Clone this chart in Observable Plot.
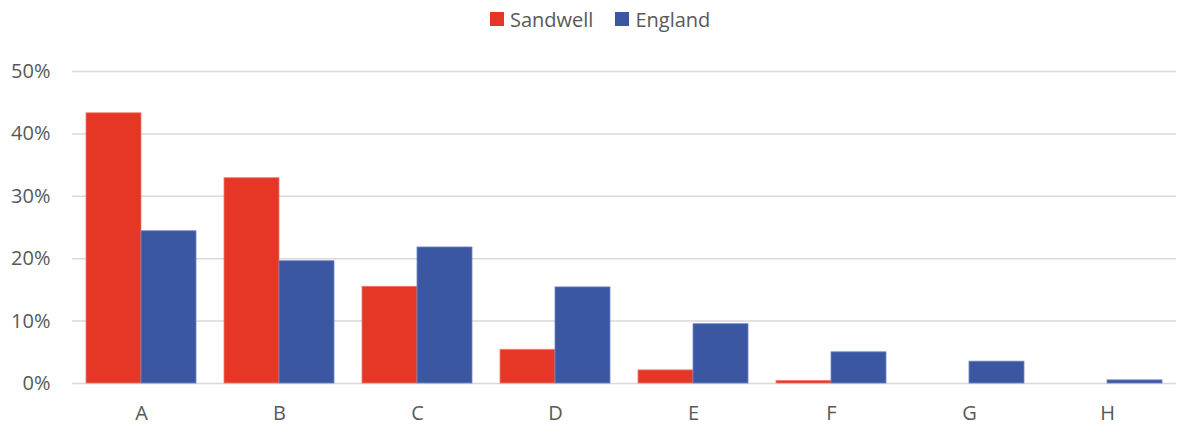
<!DOCTYPE html>
<html>
<head>
<meta charset="utf-8">
<script src="https://cdn.jsdelivr.net/npm/d3@7"></script>
<script src="https://cdn.jsdelivr.net/npm/@observablehq/plot@0.6"></script>
<style>
  html, body { margin: 0; padding: 0; background: #fff; }
  body { width: 1177px; height: 426px; overflow: hidden; font-family: "Open Sans", sans-serif; }
  #legend { height: 38px; display: flex; align-items: center; padding-left: 490px; color: #595959; font-size: 20px; }
  .item { display: flex; align-items: center; margin-right: 22px; }
  .swatch { width: 14px; height: 14px; margin-right: 6px; }
  #chart svg { display: block; }
</style>
</head>
<body>
<div id="legend"></div>
<div id="chart"></div>
<script>
const categories = ["A", "B", "C", "D", "E", "F", "G", "H"];
const seriesNames = ["Sandwell", "England"];
const sandwell = [0.433, 0.329, 0.155, 0.054, 0.021, 0.004, 0, 0];
const england  = [0.244, 0.196, 0.218, 0.154, 0.095, 0.050, 0.035, 0.005];
const yTicks = [0, 0.1, 0.2, 0.3, 0.4, 0.5];
const colors = ["#E53626", "#3C57A2"];
const strokes = ["#F07A6E", "#7186C4"];

const data = categories.flatMap((c, i) => [
  {cat: c, series: seriesNames[0], value: sandwell[i]},
  {cat: c, series: seriesNames[1], value: england[i]}
]);

const legend = document.getElementById("legend");
seriesNames.forEach((s, i) => {
  const it = document.createElement("div");
  it.className = "item";
  const sw = document.createElement("div");
  sw.className = "swatch";
  sw.style.background = colors[i];
  const t = document.createElement("span");
  t.textContent = s;
  it.appendChild(sw); it.appendChild(t);
  legend.appendChild(it);
});

const chart = Plot.plot({
  width: 1177,
  height: 388,
  marginLeft: 72,
  marginRight: 1,
  marginTop: 33,
  marginBottom: 43,
  style: {fontFamily: "Open Sans, sans-serif", fontSize: "20px", color: "#595959", background: "#fff"},
  fx: {domain: categories, padding: 0, label: null, axis: "bottom", tickSize: 0, tickPadding: 22},
  x: {domain: seriesNames, paddingInner: 0, paddingOuter: 0.25, axis: null},
  y: {domain: [0, 0.5], ticks: yTicks, tickFormat: d => Math.round(d * 100) + "%", label: null, tickSize: 0, tickPadding: 22},
  color: {domain: seriesNames, range: colors},
  marks: [
    Plot.ruleY(yTicks, {stroke: "#D9D9D9", strokeWidth: 1.5}),
    Plot.barY(data, {fx: "cat", x: "series", y: "value", fill: "series",
      stroke: d => strokes[seriesNames.indexOf(d.series)], strokeWidth: 0.8})
  ]
});
document.getElementById("chart").appendChild(chart);
</script>
</body>
</html>
